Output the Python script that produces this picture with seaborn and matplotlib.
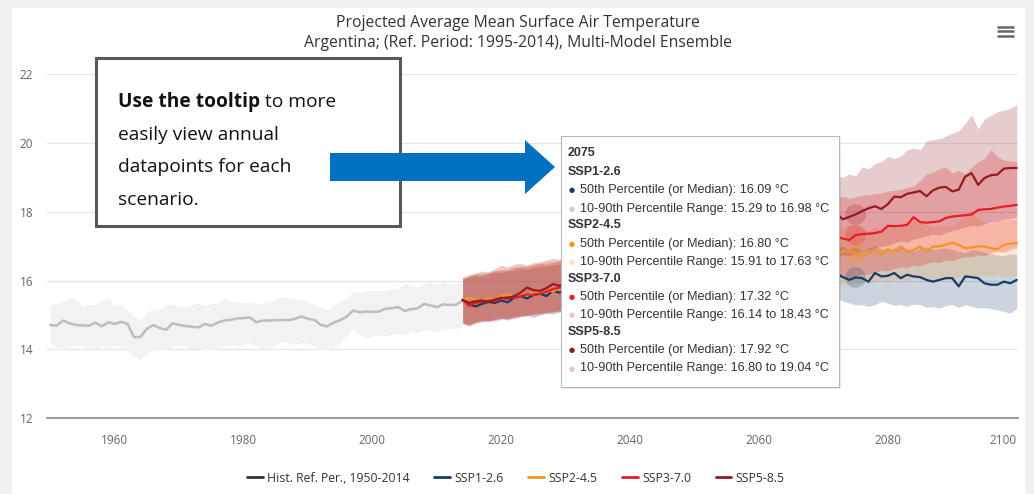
import numpy as np
import pandas as pd
import matplotlib
matplotlib.use('Agg')
import matplotlib.pyplot as plt
import seaborn as sns
from matplotlib.patches import Rectangle, Polygon
from matplotlib.lines import Line2D

# ---- data ----
hist_years = list(range(1950, 2015))
hist_median = [
    14.71, 14.69, 14.84, 14.76, 14.71, 14.70, 14.69, 14.78, 14.67, 14.79,
    14.74, 14.80, 14.74, 14.36, 14.36, 14.60, 14.71, 14.62, 14.57, 14.76,
    14.71, 14.68, 14.66, 14.64, 14.74, 14.69, 14.78, 14.84, 14.86, 14.90,
    14.91, 14.93, 14.79, 14.84, 14.84, 14.85, 14.86, 14.85, 14.89, 14.96,
    14.89, 14.86, 14.71, 14.67, 14.78, 14.85, 14.95, 15.13, 15.08, 15.10,
    15.09, 15.10, 15.18, 15.20, 15.23, 15.12, 15.17, 15.19, 15.32, 15.28,
    15.23, 15.31, 15.29, 15.30, 15.42]
hist_upper = [
    15.30, 15.32, 15.40, 15.52, 15.45, 15.25, 15.30, 15.30, 15.42, 15.50,
    15.28, 15.32, 15.15, 14.95, 14.85, 15.10, 15.15, 15.18, 15.30, 15.32,
    15.25, 15.22, 15.30, 15.35, 15.28, 15.32, 15.35, 15.48, 15.40, 15.38,
    15.35, 15.38, 15.32, 15.35, 15.40, 15.45, 15.54, 15.50, 15.45, 15.44,
    15.38, 15.30, 15.22, 15.15, 15.30, 15.38, 15.50, 15.68, 15.65, 15.70,
    15.72, 15.73, 15.70, 15.75, 15.78, 15.92, 15.85, 15.82, 15.90, 15.97,
    15.88, 15.95, 15.92, 15.90, 15.97]
hist_lower = [
    14.18, 14.05, 13.99, 14.08, 14.14, 14.10, 14.05, 14.02, 14.08, 14.04,
    14.12, 14.09, 13.95, 13.80, 13.70, 13.88, 13.99, 14.05, 13.99, 14.08,
    14.12, 14.09, 14.02, 14.05, 14.00, 13.99, 14.05, 14.10, 14.14, 14.10,
    14.15, 14.20, 14.08, 14.04, 14.04, 14.15, 14.23, 14.18, 14.15, 14.20,
    14.18, 14.10, 13.99, 14.00, 14.04, 14.20, 14.40, 14.62, 14.45, 14.33,
    14.38, 14.43, 14.40, 14.45, 14.47, 14.42, 14.52, 14.50, 14.55, 14.57,
    14.52, 14.58, 14.62, 14.60, 14.67]

# projections: visible part before the tooltip (2014-2031) and after it (2072-2100)
early_years = list(range(2014, 2032))
late_years = list(range(2072, 2101))

scenarios = ['SSP1-2.6', 'SSP2-4.5', 'SSP3-7.0', 'SSP5-8.5']

ssp126_med_early = [15.44, 15.30, 15.25, 15.32, 15.38, 15.35, 15.42, 15.37, 15.50,
                    15.55, 15.48, 15.58, 15.62, 15.55, 15.70, 15.65, 15.72, 15.75]
ssp245_med_early = [15.44, 15.50, 15.45, 15.40, 15.48, 15.45, 15.55, 15.60, 15.52,
                    15.62, 15.58, 15.70, 15.65, 15.72, 15.68, 15.78, 15.80, 15.82]
ssp370_med_early = [15.44, 15.27, 15.35, 15.38, 15.42, 15.40, 15.48, 15.52, 15.50,
                    15.55, 15.60, 15.58, 15.62, 15.68, 15.75, 15.80, 15.78, 15.85]
ssp585_med_early = [15.44, 15.35, 15.40, 15.42, 15.38, 15.45, 15.50, 15.48, 15.55,
                    15.65, 15.80, 15.72, 15.70, 15.78, 15.90, 15.85, 15.92, 15.95]

ssp126_hi_early = [16.05, 16.10, 16.15, 16.12, 16.20, 16.25, 16.22, 16.28, 16.30,
                   16.35, 16.32, 16.38, 16.40, 16.42, 16.45, 16.48, 16.50, 16.52]
ssp126_lo_early = [14.78, 14.72, 14.80, 14.85, 14.82, 14.88, 14.90, 14.85, 14.92,
                   14.95, 14.98, 14.92, 15.00, 15.05, 15.02, 15.08, 15.10, 15.12]
ssp245_hi_early = [16.08, 16.15, 16.22, 16.18, 16.25, 16.30, 16.28, 16.35, 16.40,
                   16.38, 16.45, 16.48, 16.50, 16.55, 16.52, 16.58, 16.60, 16.62]
ssp245_lo_early = [14.80, 14.75, 14.82, 14.88, 14.85, 14.90, 14.95, 14.92, 14.98,
                   15.02, 15.00, 15.05, 15.08, 15.12, 15.10, 15.15, 15.18, 15.20]
ssp370_hi_early = [16.05, 16.12, 16.18, 16.20, 16.22, 16.28, 16.32, 16.30, 16.38,
                   16.42, 16.40, 16.45, 16.50, 16.48, 16.55, 16.58, 16.62, 16.65]
ssp370_lo_early = [14.75, 14.68, 14.75, 14.80, 14.85, 14.82, 14.88, 14.92, 14.90,
                   14.95, 14.98, 15.00, 15.02, 15.05, 15.08, 15.10, 15.12, 15.15]
ssp585_hi_early = [16.10, 16.18, 16.22, 16.28, 16.25, 16.35, 16.45, 16.40, 16.48,
                   16.50, 16.45, 16.52, 16.55, 16.60, 16.65, 16.62, 16.68, 16.70]
ssp585_lo_early = [14.76, 14.70, 14.78, 14.82, 14.80, 14.86, 14.90, 14.88, 14.95,
                   14.98, 15.00, 15.03, 15.05, 15.08, 15.10, 15.12, 15.15, 15.18]

ssp126_med_late = [16.22, 16.10, 16.02, 16.09, 16.07, 15.97, 16.22, 16.12, 16.14, 16.22,
                   16.07, 16.17, 16.12, 16.10, 16.02, 15.97, 16.02, 16.07, 16.07, 15.83,
                   16.12, 16.10, 16.07, 15.92, 15.88, 15.88, 15.97, 15.92, 16.02]
ssp245_med_late = [16.75, 16.84, 16.89, 16.80, 16.70, 16.80, 16.89, 16.75, 16.91, 16.84,
                   16.94, 16.84, 16.89, 16.99, 16.84, 16.99, 16.99, 17.04, 17.10, 17.04,
                   16.94, 16.96, 16.99, 16.99, 16.94, 16.91, 17.04, 17.07, 17.09]
ssp370_med_late = [17.28, 17.22, 17.18, 17.32, 17.35, 17.36, 17.38, 17.42, 17.59, 17.58,
                   17.59, 17.62, 17.84, 17.70, 17.68, 17.70, 17.72, 17.82, 17.86, 17.88,
                   17.90, 17.92, 18.05, 18.07, 18.08, 18.12, 18.15, 18.17, 18.20]
ssp585_med_late = [17.95, 17.78, 17.85, 17.92, 18.02, 18.10, 18.16, 18.08, 18.22, 18.44,
                   18.42, 18.52, 18.56, 18.60, 18.45, 18.62, 18.70, 18.72, 18.59, 18.64,
                   19.02, 19.12, 18.78, 18.98, 19.06, 19.08, 19.25, 19.27, 19.27]

ssp126_hi_late = [16.95, 17.00, 16.90, 16.98, 16.85, 16.95, 17.00, 16.92, 16.88, 16.95,
                  17.05, 16.90, 16.85, 16.95, 16.98, 16.90, 16.92, 16.95, 16.90, 16.85,
                  16.80, 16.90, 16.88, 16.82, 16.78, 16.75, 16.72, 16.78, 16.75]
ssp126_lo_late = [15.50, 15.40, 15.35, 15.29, 15.30, 15.25, 15.30, 15.40, 15.35, 15.28,
                  15.30, 15.25, 15.32, 15.30, 15.22, 15.25, 15.20, 15.28, 15.30, 15.22,
                  15.30, 15.25, 15.20, 15.22, 15.18, 15.15, 15.10, 15.05, 15.20]
ssp245_hi_late = [17.60, 17.55, 17.62, 17.63, 17.50, 17.45, 17.55, 17.48, 17.60, 17.55,
                  17.58, 17.65, 17.75, 17.68, 17.62, 17.55, 17.60, 17.58, 17.57, 17.75,
                  17.90, 18.05, 17.80, 17.70, 17.65, 17.72, 17.75, 17.78, 17.77]
ssp245_lo_late = [15.85, 15.90, 15.88, 15.91, 15.95, 15.90, 15.98, 16.00, 15.95, 16.02,
                  16.05, 16.00, 16.08, 16.05, 16.10, 16.02, 16.08, 16.12, 16.05, 16.10,
                  16.15, 16.12, 16.10, 16.15, 16.12, 16.18, 16.10, 16.12, 16.15]
ssp370_hi_late = [18.40, 18.45, 18.38, 18.43, 18.48, 18.50, 18.52, 18.55, 18.60, 18.62,
                  18.65, 18.70, 18.75, 18.90, 19.10, 19.15, 19.25, 19.30, 19.12, 19.20,
                  19.10, 19.30, 19.45, 19.55, 19.80, 19.60, 19.50, 19.48, 19.46]
ssp370_lo_late = [16.05, 16.10, 16.08, 16.14, 16.20, 16.18, 16.25, 16.30, 16.28, 16.35,
                  16.40, 16.38, 16.45, 16.42, 16.50, 16.55, 16.52, 16.60, 16.58, 16.65,
                  16.70, 16.68, 16.75, 16.72, 16.80, 16.85, 16.82, 16.90, 16.95]
ssp585_hi_late = [19.05, 19.00, 19.10, 19.04, 19.30, 19.25, 19.40, 19.45, 19.61, 19.55,
                  19.62, 19.80, 19.85, 19.80, 20.05, 20.09, 20.12, 20.20, 20.28, 20.35,
                  20.57, 20.82, 20.40, 20.70, 20.80, 20.90, 20.95, 21.00, 21.11]
ssp585_lo_late = [16.70, 16.75, 16.72, 16.80, 16.85, 16.90, 16.95, 17.00, 17.02, 17.10,
                  17.15, 17.12, 17.20, 17.25, 17.30, 17.35, 17.32, 17.40, 17.45, 17.50,
                  17.55, 17.60, 17.58, 17.65, 17.70, 17.72, 17.78, 17.80, 17.85]

tooltip_year = 2075
tooltip_median = [16.09, 16.80, 17.32, 17.92]
tooltip_lo = [15.29, 15.91, 16.14, 16.80]
tooltip_hi = [16.98, 17.63, 18.43, 19.04]

colors = ['#173c66', '#f79420', '#e71d25', '#951b1e']
band_alpha = [0.22, 0.2, 0.25, 0.22]
range_dot = ['#c5d0dd', '#fde2c4', '#f7c3c3', '#e7c2c4']

med = {'early': [ssp126_med_early, ssp245_med_early, ssp370_med_early, ssp585_med_early],
       'late': [ssp126_med_late, ssp245_med_late, ssp370_med_late, ssp585_med_late]}
hi = {'early': [ssp126_hi_early, ssp245_hi_early, ssp370_hi_early, ssp585_hi_early],
      'late': [ssp126_hi_late, ssp245_hi_late, ssp370_hi_late, ssp585_hi_late]}
lo = {'early': [ssp126_lo_early, ssp245_lo_early, ssp370_lo_early, ssp585_lo_early],
      'late': [ssp126_lo_late, ssp245_lo_late, ssp370_lo_late, ssp585_lo_late]}
seg_years = {'early': early_years, 'late': late_years}

rows = []
for seg in ['early', 'late']:
    for i, s in enumerate(scenarios):
        for yr, v in zip(seg_years[seg], med[seg][i]):
            rows.append({'year': yr, 'median': v, 'scenario': s, 'segment': s + seg})
proj = pd.DataFrame(rows)

# ---- figure ----
W, H = 1034, 494
sns.set_theme(style='white')
plt.rcParams['font.family'] = ['Open Sans', 'DejaVu Sans']


def fx(x):
    return x / W


def fy(y):
    return 1 - y / H


fig = plt.figure(figsize=(W / 100, H / 100), dpi=100)
fig.patch.set_facecolor('white')
for r in [(0, 0, 12, H), (0, 0, W, 8), (1025, 0, W - 1025, H)]:
    fig.add_artist(Rectangle((fx(r[0]), fy(r[1] + r[3])), r[2] / W, r[3] / H,
                             transform=fig.transFigure, color='#f0f0f0', lw=0, zorder=-5))

ax = fig.add_axes([fx(47), fy(418.3), 971 / W, (418.3 - 74) / H])

ax.fill_between(hist_years, hist_lower, hist_upper, color='#f2f2f2', lw=0, zorder=1)
sns.lineplot(x=hist_years, y=hist_median, color='#bdbdbd', lw=1.8, ax=ax, zorder=2)

for seg in ['early', 'late']:
    for i in range(4):
        ax.fill_between(seg_years[seg], lo[seg][i], hi[seg][i], color=colors[i],
                        alpha=band_alpha[i], lw=0, zorder=1)

sns.lineplot(data=proj, x='year', y='median', hue='scenario', units='segment',
             estimator=None, palette=colors, hue_order=scenarios, lw=1.6,
             legend=False, ax=ax, zorder=3)

ax.scatter([tooltip_year] * 4, tooltip_median, s=220, c=colors, alpha=0.22, lw=0, zorder=4)

ax.set_xlim(1949.5, 2100.2)
ax.set_ylim(12, 22)
ax.set_xticks(list(range(1960, 2101, 20)))
ax.set_yticks([12, 14, 16, 18, 20, 22])
ax.set_xlabel('')
ax.set_ylabel('')
ax.tick_params(axis='both', length=0, labelsize=8.5, labelcolor='#666666')
ax.tick_params(axis='x', pad=11)
ax.tick_params(axis='y', pad=10)
ax.get_xticklabels()[-1].set_horizontalalignment('right')
ax.yaxis.grid(True, color='#e6e6e6', lw=1)
ax.xaxis.grid(False)
ax.set_axisbelow(True)
for side in ['top', 'left', 'right']:
    ax.spines[side].set_visible(False)
ax.spines['bottom'].set_color('#a0a0a0')
ax.spines['bottom'].set_linewidth(1.5)
ax.spines['bottom'].set_zorder(5)

# title
fig.text(fx(518), fy(23), 'Projected Average Mean Surface Air Temperature',
         ha='center', va='center', fontsize=11.3, color='#333333')
fig.text(fx(518), fy(43), 'Argentina; (Ref. Period: 1995-2014), Multi-Model Ensemble',
         ha='center', va='center', fontsize=11.3, color='#333333')

# menu icon
for yy in [27, 31.5, 36]:
    fig.add_artist(Line2D([fx(997), fx(1014)], [fy(yy), fy(yy)], transform=fig.transFigure,
                          color='#666666', lw=1.8, solid_capstyle='butt'))

# legend
handles = [Line2D([], [], color='#333333', lw=2)] + [Line2D([], [], color=c, lw=2) for c in colors]
labels = ['Hist. Ref. Per., 1950-2014'] + scenarios
fig.legend(handles, labels, loc='center', bbox_to_anchor=(fx(516), fy(478)), ncol=5,
           frameon=False, fontsize=8.8, handlelength=1.3, handletextpad=0.35,
           columnspacing=2.0, labelcolor='#333333')

# annotation box
fig.add_artist(Rectangle((fx(96), fy(226)), (400 - 96) / W, (226 - 58) / H,
                         transform=fig.transFigure, fc='white', ec='#595959', lw=2.2, zorder=10))
t_bold = fig.text(fx(118), fy(102), 'Use the tooltip', fontsize=13.8, fontweight='bold',
                  color='#111111', ha='left', va='center', zorder=11)
fig.canvas.draw()
bb = t_bold.get_window_extent()
fig.text(bb.x1 / W, fy(102), ' to more', fontsize=13.8, color='#111111',
         ha='left', va='center', zorder=11)
for yy, line in zip([135, 167, 200], ['easily view annual', 'datapoints for each', 'scenario.']):
    fig.text(fx(118), fy(yy), line, fontsize=13.8, color='#111111', ha='left', va='center', zorder=11)

# blue arrow
arrow_px = [(330, 153), (525, 153), (525, 140), (555, 167), (525, 194), (525, 181), (330, 181)]
fig.add_artist(Polygon([(fx(x), fy(y)) for x, y in arrow_px], closed=True,
                       transform=fig.transFigure, fc='#0070c0', ec='none', zorder=10))

# tooltip
fig.add_artist(Rectangle((fx(563), fy(389)), (839 - 561) / W, (387 - 136) / H,
                         transform=fig.transFigure, fc='#000000', alpha=0.08, lw=0, zorder=9))
fig.add_artist(Rectangle((fx(561), fy(387)), (839 - 561) / W, (387 - 136) / H,
                         transform=fig.transFigure, fc='white', ec='#b8b8b8', lw=0.8, zorder=10))
tip_font = ['Liberation Sans', 'DejaVu Sans']
fig.text(fx(568), fy(153), str(tooltip_year), fontsize=9, fontweight='bold', color='#333333',
         family=tip_font, ha='left', va='center', zorder=11)
y0 = 172
for i, s in enumerate(scenarios):
    yh = y0 + i * 53.3
    fig.text(fx(568), fy(yh), s, fontsize=9, fontweight='bold', color='#333333',
             family=tip_font, ha='left', va='center', zorder=11)
    lines = ['50th Percentile (or Median): %.2f °C' % tooltip_median[i],
             '10-90th Percentile Range: %.2f to %.2f °C' % (tooltip_lo[i], tooltip_hi[i])]
    for j, (txt, dc) in enumerate(zip(lines, [colors[i], range_dot[i]])):
        yl = yh + 18.3 * (j + 1)
        fig.text(fx(569), fy(yl), '●', fontsize=5, color=dc, family=['DejaVu Sans'],
                 ha='left', va='center', zorder=11)
        fig.text(fx(580), fy(yl), txt, fontsize=9.1, color='#333333', family=tip_font,
                 ha='left', va='center', zorder=11)

fig.savefig('out.png', dpi=100, facecolor=fig.get_facecolor())
